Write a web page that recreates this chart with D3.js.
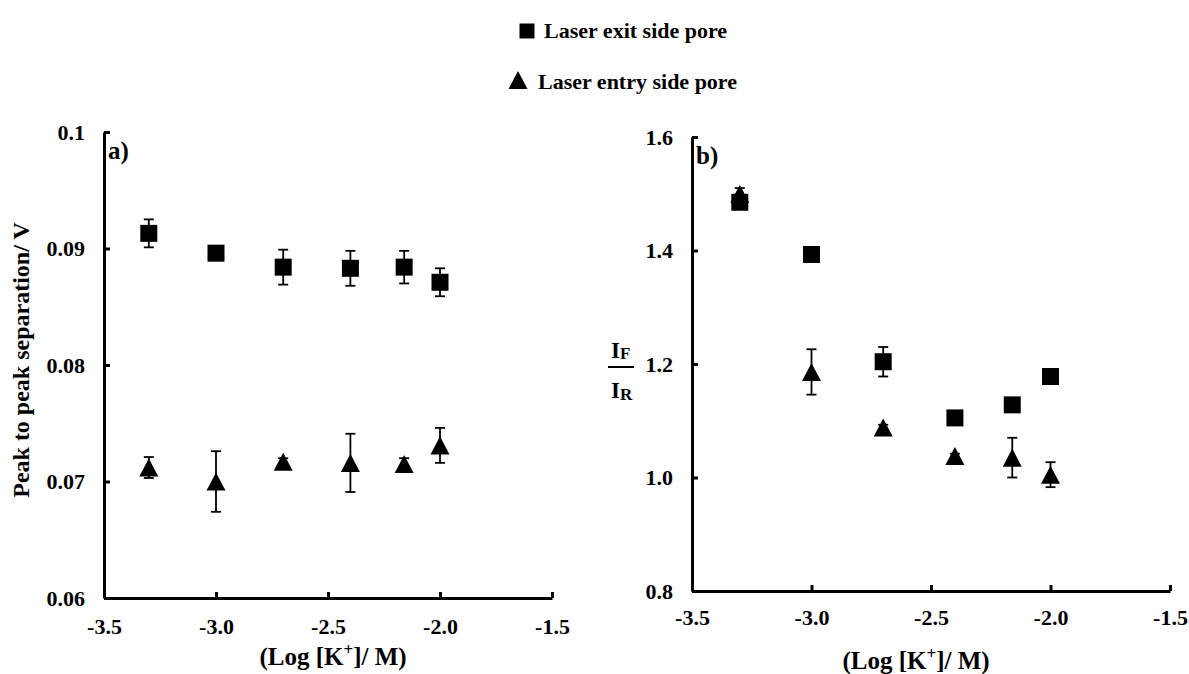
<!DOCTYPE html>
<html><head><meta charset="utf-8">
<script src="https://cdn.jsdelivr.net/npm/d3@7"></script>
<style>
body{margin:0;background:#fff;}
svg{display:block;}
text{font-family:"Liberation Serif","Times New Roman",serif;font-weight:bold;fill:#000;}
</style></head>
<body>
<svg id="chart" width="1189" height="674"></svg>
<script>
// ---- data ----
const logK = [-3.3, -3.0, -2.7, -2.4, -2.16, -2.0];
// panel a: peak to peak separation / V
const sepExit      = [0.0913, 0.0896, 0.0884, 0.0883, 0.0884, 0.0871];
const sepExitErr   = [0.0012, 0.0003, 0.0015, 0.0015, 0.0014, 0.0012];
const sepEntry     = [0.0712, 0.0700, 0.0717, 0.0716, 0.0715, 0.0731];
const sepEntryErr  = [0.0009, 0.0026, 0.0003, 0.0025, 0.0005, 0.0015];
// panel b: IF/IR
const ratioExit     = [1.485, 1.393, 1.204, 1.105, 1.128, 1.178];
const ratioExitErr  = [0.008, 0.005, 0.026, 0.004, 0.004, 0.004];
const ratioEntry    = [1.500, 1.186, 1.088, 1.038, 1.035, 1.005];
const ratioEntryErr = [0.010, 0.040, 0.005, 0.004, 0.035, 0.022];
// ticks
const xTicks = [-3.5, -3.0, -2.5, -2.0, -1.5];
const xTickLabels = ["-3.5", "-3.0", "-2.5", "-2.0", "-1.5"];
const yTicksA = [0.06, 0.07, 0.08, 0.09, 0.1];
const yTickLabelsA = ["0.06", "0.07", "0.08", "0.09", "0.1"];
const yTicksB = [0.8, 1.0, 1.2, 1.4, 1.6];
const yTickLabelsB = ["0.8", "1.0", "1.2", "1.4", "1.6"];
const seriesNames = ["Laser exit side pore", "Laser entry side pore"];

const svg = d3.select("#chart");

// custom triangle centred on its bounding box
const triType = {draw(ctx, size){
  const w = Math.sqrt(size) , h = w * 0.95;
  ctx.moveTo(0, -h/2); ctx.lineTo(w/2, h/2); ctx.lineTo(-w/2, h/2); ctx.closePath();
}};
const squareSym = d3.symbol().type(d3.symbolSquare).size(17*17);
const triSym = d3.symbol().type(triType).size(19*19);

function panel(cfg){
  const g = svg.append("g");
  const x = d3.scaleLinear().domain([-3.5, -1.5]).range([cfg.x0, cfg.x1]);
  const y = d3.scaleLinear().domain(cfg.yDomain).range([cfg.y1, cfg.y0]);

  const yAxis = d3.axisLeft(y).tickValues(cfg.yTicks)
    .tickFormat((d,i)=>cfg.yLabels[i]).tickSizeInner(-6).tickSizeOuter(0).tickPadding(19);
  const xAxis = d3.axisBottom(x).tickValues(xTicks)
    .tickFormat((d,i)=>xTickLabels[i]).tickSizeInner(-6).tickSizeOuter(0).tickPadding(cfg.xPad);

  const gx = g.append("g").attr("transform", `translate(0,${cfg.y1})`).call(xAxis);
  const gy = g.append("g").attr("transform", `translate(${cfg.x0},0)`).call(yAxis);
  [gx, gy].forEach(a=>{
    a.select(".domain").attr("stroke","#000").attr("stroke-width",3);
    a.selectAll(".tick line").attr("stroke","#000").attr("stroke-width",3);
    a.selectAll(".tick text").attr("font-family",'"Liberation Serif","Times New Roman",serif')
      .attr("font-weight","bold").attr("font-size",22).attr("fill","#000");
  });

  function drawSeries(vals, errs, sym){
    const pts = logK.map((k,i)=>({k, v:vals[i], e:errs[i]}));
    const eb = g.append("g").attr("stroke","#000").attr("stroke-width",1.8).attr("fill","none");
    pts.forEach(p=>{
      const yt = y(p.v + p.e), yb = y(p.v - p.e), xc = x(p.k);
      eb.append("line").attr("x1",xc).attr("x2",xc).attr("y1",yt).attr("y2",yb);
      eb.append("line").attr("x1",xc-5).attr("x2",xc+5).attr("y1",yt).attr("y2",yt);
      eb.append("line").attr("x1",xc-5).attr("x2",xc+5).attr("y1",yb).attr("y2",yb);
    });
    g.append("g").selectAll("path").data(pts).join("path")
      .attr("d", sym).attr("fill","#000")
      .attr("transform", p=>`translate(${x(p.k)},${y(p.v)})`);
  }
  drawSeries(cfg.exit, cfg.exitErr, squareSym);
  drawSeries(cfg.entry, cfg.entryErr, triSym);

  g.append("text").attr("x", cfg.x0 + 4).attr("y", cfg.y0 + 27)
    .attr("font-size", 25).text(cfg.tag);
  g.append("text").attr("x", cfg.xLabelX).attr("y", cfg.xLabelY)
    .attr("text-anchor","middle").attr("font-size",25)
    .call(t=>{ t.append("tspan").text("(Log [K");
               t.append("tspan").attr("dy",-10).attr("font-size",17).text("+");
               t.append("tspan").attr("dy",10).text("]/ M)"); });
  return {g, x, y};
}

panel({x0:104, x1:552, y0:132, y1:598, yDomain:[0.06,0.1], yTicks:yTicksA, yLabels:yTickLabelsA,
  xPad:20, exit:sepExit, exitErr:sepExitErr, entry:sepEntry, entryErr:sepEntryErr,
  tag:"a)", xLabelX:333, xLabelY:665});
panel({x0:692, x1:1170, y0:137, y1:591, yDomain:[0.8,1.6], yTicks:yTicksB, yLabels:yTickLabelsB,
  xPad:18, exit:ratioExit, exitErr:ratioExitErr, entry:ratioEntry, entryErr:ratioEntryErr,
  tag:"b)", xLabelX:916, xLabelY:669});

// y label panel a
svg.append("text").attr("transform","translate(29,360) rotate(-90)")
  .attr("text-anchor","middle").attr("font-size",24).text("Peak to peak separation/ V");

// y label panel b : IF / IR fraction
const fr = svg.append("g").attr("font-size",23);
fr.append("text").attr("x",611).attr("y",358).call(t=>{
  t.append("tspan").text("I"); t.append("tspan").attr("font-size",17).attr("dy",1).text("F");});
svg.append("line").attr("x1",608).attr("x2",634).attr("y1",367).attr("y2",367)
  .attr("stroke","#000").attr("stroke-width",2);
fr.append("text").attr("x",611).attr("y",398).call(t=>{
  t.append("tspan").text("I"); t.append("tspan").attr("font-size",17).attr("dy",2).text("R");});

// legend
const lg = svg.append("g");
lg.append("path").attr("d", d3.symbol().type(d3.symbolSquare).size(15*15)()).attr("fill","#000")
  .attr("transform","translate(527,31)");
lg.append("text").attr("x",544).attr("y",38).attr("font-size",22).text(seriesNames[0]);
lg.append("path").attr("d", d3.symbol().type(triType).size(19*19)()).attr("fill","#000")
  .attr("transform","translate(518,80)");
lg.append("text").attr("x",538).attr("y",89).attr("font-size",22).text(seriesNames[1]);
</script>
</body></html>
